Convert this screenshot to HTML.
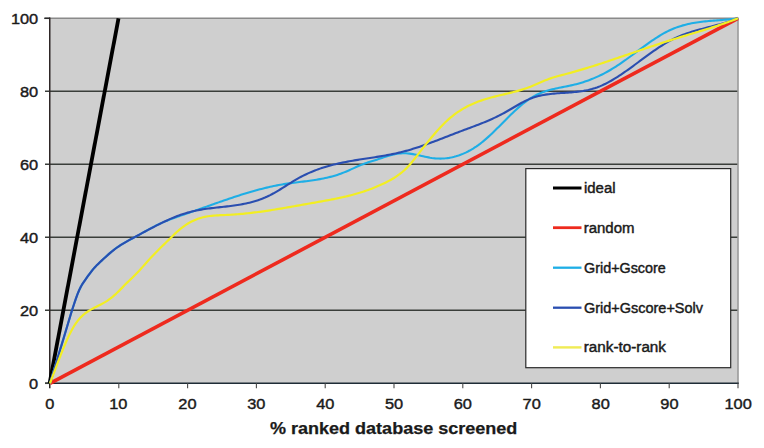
<!DOCTYPE html>
<html><head><meta charset="utf-8"><style>
html,body{margin:0;padding:0;background:#fff;}
svg{display:block;font-family:"Liberation Sans", sans-serif;}
</style></head><body>
<svg width="764" height="448" viewBox="0 0 764 448">
<rect x="50.0" y="18.3" width="688.0" height="365.0" fill="#cfcfcf"/>
<line x1="45.0" y1="310.3" x2="738.0" y2="310.3" stroke="#3a3e3a" stroke-width="1.5"/>
<line x1="45.0" y1="237.3" x2="738.0" y2="237.3" stroke="#3a3e3a" stroke-width="1.5"/>
<line x1="45.0" y1="164.3" x2="738.0" y2="164.3" stroke="#3a3e3a" stroke-width="1.5"/>
<line x1="45.0" y1="91.3" x2="738.0" y2="91.3" stroke="#3a3e3a" stroke-width="1.5"/>
<line x1="45.0" y1="18.3" x2="738.8" y2="18.3" stroke="#8a8a8a" stroke-width="1.6"/>
<line x1="738.0" y1="18.3" x2="738.0" y2="383.3" stroke="#9a9a9a" stroke-width="1.6"/>
<line x1="44.2" y1="18.3" x2="50.0" y2="18.3" stroke="#2a2a2a" stroke-width="1.5"/>
<line x1="49.75" y1="17.5" x2="49.75" y2="388.3" stroke="#2e2626" stroke-width="1.5"/>
<line x1="45.0" y1="383.3" x2="738.8" y2="383.3" stroke="#1e2c36" stroke-width="1.4"/>
<line x1="118.8" y1="383.3" x2="118.8" y2="388.3" stroke="#4a4a4a" stroke-width="1.1"/>
<line x1="187.6" y1="383.3" x2="187.6" y2="388.3" stroke="#4a4a4a" stroke-width="1.1"/>
<line x1="256.4" y1="383.3" x2="256.4" y2="388.3" stroke="#4a4a4a" stroke-width="1.1"/>
<line x1="325.2" y1="383.3" x2="325.2" y2="388.3" stroke="#4a4a4a" stroke-width="1.1"/>
<line x1="394.0" y1="383.3" x2="394.0" y2="388.3" stroke="#4a4a4a" stroke-width="1.1"/>
<line x1="462.8" y1="383.3" x2="462.8" y2="388.3" stroke="#4a4a4a" stroke-width="1.1"/>
<line x1="531.6" y1="383.3" x2="531.6" y2="388.3" stroke="#4a4a4a" stroke-width="1.1"/>
<line x1="600.4" y1="383.3" x2="600.4" y2="388.3" stroke="#4a4a4a" stroke-width="1.1"/>
<line x1="669.2" y1="383.3" x2="669.2" y2="388.3" stroke="#4a4a4a" stroke-width="1.1"/>
<line x1="738.0" y1="383.3" x2="738.0" y2="388.3" stroke="#4a4a4a" stroke-width="1.1"/>
<line x1="45.0" y1="383.3" x2="50.0" y2="383.3" stroke="#3a3e3a" stroke-width="1.5"/>
<line x1="49.6" y1="383.3" x2="118.5" y2="18.30000000000001" stroke="#000" stroke-width="3.8"/>
<line x1="50.0" y1="383.3" x2="738.0" y2="18.30000000000001" stroke="#ee2a1e" stroke-width="3.6"/>
<path d="M50.00 383.30 L51.72 377.63 L53.44 371.91 L55.16 366.17 L56.88 360.43 L58.60 354.71 L60.32 349.03 L62.04 343.37 L63.76 337.70 L65.48 331.99 L67.20 326.23 L68.92 320.49 L70.64 314.82 L72.36 309.30 L74.08 303.98 L75.80 298.92 L77.52 294.21 L79.24 290.03 L80.96 286.53 L82.68 283.61 L84.40 281.03 L86.12 278.59 L87.84 276.16 L89.56 273.79 L91.28 271.52 L93.00 269.40 L94.72 267.44 L96.44 265.63 L98.16 263.92 L99.88 262.27 L101.60 260.67 L103.32 259.06 L105.04 257.47 L106.76 255.90 L108.48 254.36 L110.20 252.85 L111.92 251.40 L113.64 250.01 L115.36 248.69 L117.08 247.44 L118.80 246.26 L120.52 245.15 L122.24 244.08 L123.96 243.06 L125.68 242.08 L127.40 241.13 L129.12 240.19 L130.84 239.27 L132.56 238.36 L134.28 237.44 L136.00 236.50 L137.72 235.56 L139.44 234.61 L141.16 233.65 L142.88 232.69 L144.60 231.74 L146.32 230.78 L148.04 229.83 L149.76 228.90 L151.48 227.97 L153.20 227.06 L154.92 226.17 L156.64 225.30 L158.36 224.46 L160.08 223.64 L161.80 222.86 L163.52 222.10 L165.24 221.37 L166.96 220.66 L168.68 219.97 L170.40 219.31 L172.12 218.66 L173.84 218.03 L175.56 217.41 L177.28 216.80 L179.00 216.20 L180.72 215.61 L182.44 215.02 L184.16 214.43 L185.88 213.85 L187.60 213.26 L189.32 212.67 L191.04 212.07 L192.76 211.47 L194.48 210.87 L196.20 210.27 L197.92 209.66 L199.64 209.06 L201.36 208.45 L203.08 207.84 L204.80 207.23 L206.52 206.62 L208.24 206.01 L209.96 205.40 L211.68 204.79 L213.40 204.19 L215.12 203.58 L216.84 202.98 L218.56 202.37 L220.28 201.77 L222.00 201.18 L223.72 200.58 L225.44 199.99 L227.16 199.40 L228.88 198.82 L230.60 198.24 L232.32 197.67 L234.04 197.10 L235.76 196.53 L237.48 195.97 L239.20 195.42 L240.92 194.87 L242.64 194.33 L244.36 193.80 L246.08 193.27 L247.80 192.75 L249.52 192.24 L251.24 191.74 L252.96 191.24 L254.68 190.76 L256.40 190.28 L258.12 189.81 L259.84 189.35 L261.56 188.91 L263.28 188.47 L265.00 188.04 L266.72 187.63 L268.44 187.22 L270.16 186.83 L271.88 186.45 L273.60 186.08 L275.32 185.72 L277.04 185.38 L278.76 185.05 L280.48 184.73 L282.20 184.43 L283.92 184.14 L285.64 183.87 L287.36 183.61 L289.08 183.36 L290.80 183.12 L292.52 182.89 L294.24 182.67 L295.96 182.45 L297.68 182.23 L299.40 182.02 L301.12 181.81 L302.84 181.60 L304.56 181.38 L306.28 181.17 L308.00 180.94 L309.72 180.71 L311.44 180.48 L313.16 180.23 L314.88 179.97 L316.60 179.70 L318.32 179.41 L320.04 179.11 L321.76 178.79 L323.48 178.45 L325.20 178.09 L326.92 177.71 L328.64 177.31 L330.36 176.88 L332.08 176.43 L333.80 175.94 L335.52 175.43 L337.24 174.89 L338.96 174.31 L340.68 173.70 L342.40 173.05 L344.12 172.37 L345.84 171.66 L347.56 170.92 L349.28 170.17 L351.00 169.40 L352.72 168.62 L354.44 167.85 L356.16 167.08 L357.88 166.32 L359.60 165.58 L361.32 164.86 L363.04 164.18 L364.76 163.53 L366.48 162.92 L368.20 162.36 L369.92 161.82 L371.64 161.30 L373.36 160.78 L375.08 160.23 L376.80 159.66 L378.52 159.09 L380.24 158.50 L381.96 157.92 L383.68 157.35 L385.40 156.78 L387.12 156.24 L388.84 155.72 L390.56 155.24 L392.28 154.79 L394.00 154.39 L395.72 154.03 L397.44 153.74 L399.16 153.51 L400.88 153.34 L402.60 153.25 L404.32 153.24 L406.04 153.31 L407.76 153.43 L409.48 153.62 L411.20 153.85 L412.92 154.13 L414.64 154.44 L416.36 154.78 L418.08 155.15 L419.80 155.52 L421.52 155.91 L423.24 156.29 L424.96 156.67 L426.68 157.03 L428.40 157.37 L430.12 157.68 L431.84 157.95 L433.56 158.18 L435.28 158.36 L437.00 158.48 L438.72 158.56 L440.44 158.58 L442.16 158.54 L443.88 158.46 L445.60 158.32 L447.32 158.12 L449.04 157.87 L450.76 157.57 L452.48 157.21 L454.20 156.79 L455.92 156.32 L457.64 155.80 L459.36 155.22 L461.08 154.58 L462.80 153.89 L464.52 153.14 L466.24 152.33 L467.96 151.47 L469.68 150.54 L471.40 149.56 L473.12 148.53 L474.84 147.43 L476.56 146.28 L478.28 145.07 L480.00 143.80 L481.72 142.47 L483.44 141.08 L485.16 139.63 L486.88 138.14 L488.60 136.60 L490.32 135.01 L492.04 133.39 L493.76 131.74 L495.48 130.06 L497.20 128.37 L498.92 126.65 L500.64 124.92 L502.36 123.19 L504.08 121.46 L505.80 119.73 L507.52 118.01 L509.24 116.30 L510.96 114.61 L512.68 112.94 L514.40 111.30 L516.12 109.70 L517.84 108.14 L519.56 106.61 L521.28 105.14 L523.00 103.72 L524.72 102.36 L526.44 101.06 L528.16 99.83 L529.88 98.67 L531.60 97.60 L533.32 96.59 L535.04 95.66 L536.76 94.79 L538.48 93.99 L540.20 93.25 L541.92 92.56 L543.64 91.92 L545.36 91.33 L547.08 90.78 L548.80 90.28 L550.52 89.80 L552.24 89.36 L553.96 88.94 L555.68 88.55 L557.40 88.18 L559.12 87.82 L560.84 87.47 L562.56 87.13 L564.28 86.79 L566.00 86.45 L567.72 86.11 L569.44 85.75 L571.16 85.39 L572.88 85.00 L574.60 84.60 L576.32 84.17 L578.04 83.71 L579.76 83.23 L581.48 82.72 L583.20 82.18 L584.92 81.62 L586.64 81.03 L588.36 80.41 L590.08 79.76 L591.80 79.09 L593.52 78.38 L595.24 77.65 L596.96 76.89 L598.68 76.10 L600.40 75.28 L602.12 74.44 L603.84 73.56 L605.56 72.65 L607.28 71.72 L609.00 70.75 L610.72 69.75 L612.44 68.72 L614.16 67.66 L615.88 66.57 L617.60 65.45 L619.32 64.31 L621.04 63.14 L622.76 61.94 L624.48 60.73 L626.20 59.50 L627.92 58.26 L629.64 57.00 L631.36 55.74 L633.08 54.47 L634.80 53.19 L636.52 51.91 L638.24 50.64 L639.96 49.36 L641.68 48.09 L643.40 46.83 L645.12 45.58 L646.84 44.34 L648.56 43.12 L650.28 41.91 L652.00 40.73 L653.72 39.57 L655.44 38.43 L657.16 37.32 L658.88 36.24 L660.60 35.20 L662.32 34.18 L664.04 33.21 L665.76 32.28 L667.48 31.38 L669.20 30.54 L670.92 29.74 L672.64 28.99 L674.36 28.28 L676.08 27.62 L677.80 27.00 L679.52 26.42 L681.24 25.88 L682.96 25.37 L684.68 24.90 L686.40 24.47 L688.12 24.06 L689.84 23.69 L691.56 23.34 L693.28 23.03 L695.00 22.73 L696.72 22.46 L698.44 22.21 L700.16 21.98 L701.88 21.76 L703.60 21.57 L705.32 21.38 L707.04 21.21 L708.76 21.05 L710.48 20.90 L712.20 20.76 L713.92 20.62 L715.64 20.49 L717.36 20.36 L719.08 20.23 L720.80 20.09 L722.52 19.96 L724.24 19.82 L725.96 19.67 L727.68 19.51 L729.40 19.35 L731.12 19.17 L732.84 18.98 L734.56 18.77 L736.28 18.54 L738.00 18.30" fill="none" stroke="#1eaee6" stroke-width="2.1" stroke-linejoin="round"/>
<path d="M50.00 383.30 L51.72 377.63 L53.44 371.92 L55.16 366.17 L56.88 360.43 L58.60 354.71 L60.32 349.03 L62.04 343.37 L63.76 337.70 L65.48 331.99 L67.20 326.22 L68.92 320.47 L70.64 314.80 L72.36 309.29 L74.08 304.00 L75.80 298.95 L77.52 294.22 L79.24 290.01 L80.96 286.50 L82.68 283.59 L84.40 281.04 L86.12 278.61 L87.84 276.19 L89.56 273.82 L91.28 271.54 L93.00 269.40 L94.72 267.43 L96.44 265.61 L98.16 263.89 L99.88 262.24 L101.60 260.64 L103.32 259.04 L105.04 257.47 L106.76 255.91 L108.48 254.38 L110.20 252.90 L111.92 251.46 L113.64 250.08 L115.36 248.76 L117.08 247.50 L118.80 246.31 L120.52 245.18 L122.24 244.09 L123.96 243.05 L125.68 242.05 L127.40 241.07 L129.12 240.12 L130.84 239.18 L132.56 238.26 L134.28 237.33 L136.00 236.41 L137.72 235.48 L139.44 234.56 L141.16 233.63 L142.88 232.70 L144.60 231.77 L146.32 230.85 L148.04 229.93 L149.76 229.02 L151.48 228.11 L153.20 227.21 L154.92 226.32 L156.64 225.44 L158.36 224.57 L160.08 223.72 L161.80 222.87 L163.52 222.04 L165.24 221.23 L166.96 220.44 L168.68 219.66 L170.40 218.90 L172.12 218.16 L173.84 217.44 L175.56 216.75 L177.28 216.08 L179.00 215.44 L180.72 214.82 L182.44 214.23 L184.16 213.67 L185.88 213.13 L187.60 212.63 L189.32 212.16 L191.04 211.72 L192.76 211.31 L194.48 210.92 L196.20 210.56 L197.92 210.22 L199.64 209.90 L201.36 209.60 L203.08 209.32 L204.80 209.06 L206.52 208.81 L208.24 208.58 L209.96 208.35 L211.68 208.14 L213.40 207.93 L215.12 207.73 L216.84 207.54 L218.56 207.35 L220.28 207.16 L222.00 206.97 L223.72 206.78 L225.44 206.59 L227.16 206.39 L228.88 206.18 L230.60 205.97 L232.32 205.75 L234.04 205.52 L235.76 205.27 L237.48 205.01 L239.20 204.74 L240.92 204.44 L242.64 204.13 L244.36 203.79 L246.08 203.44 L247.80 203.06 L249.52 202.65 L251.24 202.21 L252.96 201.75 L254.68 201.26 L256.40 200.73 L258.12 200.16 L259.84 199.57 L261.56 198.93 L263.28 198.25 L265.00 197.54 L266.72 196.78 L268.44 195.97 L270.16 195.12 L271.88 194.22 L273.60 193.29 L275.32 192.31 L277.04 191.31 L278.76 190.28 L280.48 189.23 L282.20 188.17 L283.92 187.09 L285.64 186.01 L287.36 184.92 L289.08 183.84 L290.80 182.77 L292.52 181.71 L294.24 180.67 L295.96 179.65 L297.68 178.66 L299.40 177.70 L301.12 176.78 L302.84 175.89 L304.56 175.03 L306.28 174.20 L308.00 173.41 L309.72 172.64 L311.44 171.91 L313.16 171.20 L314.88 170.52 L316.60 169.86 L318.32 169.23 L320.04 168.63 L321.76 168.05 L323.48 167.49 L325.20 166.95 L326.92 166.44 L328.64 165.95 L330.36 165.47 L332.08 165.02 L333.80 164.58 L335.52 164.16 L337.24 163.75 L338.96 163.36 L340.68 162.99 L342.40 162.63 L344.12 162.28 L345.84 161.94 L347.56 161.62 L349.28 161.30 L351.00 160.99 L352.72 160.69 L354.44 160.40 L356.16 160.12 L357.88 159.84 L359.60 159.57 L361.32 159.30 L363.04 159.03 L364.76 158.76 L366.48 158.50 L368.20 158.24 L369.92 157.98 L371.64 157.71 L373.36 157.45 L375.08 157.18 L376.80 156.91 L378.52 156.63 L380.24 156.35 L381.96 156.06 L383.68 155.76 L385.40 155.46 L387.12 155.15 L388.84 154.82 L390.56 154.49 L392.28 154.15 L394.00 153.79 L395.72 153.42 L397.44 153.04 L399.16 152.64 L400.88 152.22 L402.60 151.79 L404.32 151.34 L406.04 150.88 L407.76 150.40 L409.48 149.90 L411.20 149.39 L412.92 148.86 L414.64 148.33 L416.36 147.77 L418.08 147.21 L419.80 146.64 L421.52 146.05 L423.24 145.46 L424.96 144.85 L426.68 144.24 L428.40 143.62 L430.12 142.99 L431.84 142.35 L433.56 141.71 L435.28 141.06 L437.00 140.41 L438.72 139.75 L440.44 139.09 L442.16 138.43 L443.88 137.77 L445.60 137.10 L447.32 136.43 L449.04 135.76 L450.76 135.09 L452.48 134.43 L454.20 133.76 L455.92 133.10 L457.64 132.44 L459.36 131.78 L461.08 131.13 L462.80 130.48 L464.52 129.83 L466.24 129.19 L467.96 128.55 L469.68 127.91 L471.40 127.27 L473.12 126.62 L474.84 125.97 L476.56 125.32 L478.28 124.66 L480.00 123.99 L481.72 123.31 L483.44 122.62 L485.16 121.91 L486.88 121.19 L488.60 120.46 L490.32 119.71 L492.04 118.95 L493.76 118.16 L495.48 117.36 L497.20 116.53 L498.92 115.68 L500.64 114.80 L502.36 113.90 L504.08 112.97 L505.80 112.01 L507.52 111.03 L509.24 110.03 L510.96 109.02 L512.68 108.00 L514.40 106.98 L516.12 105.97 L517.84 104.97 L519.56 103.99 L521.28 103.03 L523.00 102.11 L524.72 101.22 L526.44 100.38 L528.16 99.59 L529.88 98.85 L531.60 98.18 L533.32 97.57 L535.04 97.01 L536.76 96.51 L538.48 96.05 L540.20 95.64 L541.92 95.28 L543.64 94.95 L545.36 94.66 L547.08 94.40 L548.80 94.17 L550.52 93.96 L552.24 93.78 L553.96 93.61 L555.68 93.46 L557.40 93.32 L559.12 93.19 L560.84 93.07 L562.56 92.96 L564.28 92.84 L566.00 92.72 L567.72 92.60 L569.44 92.48 L571.16 92.34 L572.88 92.20 L574.60 92.04 L576.32 91.86 L578.04 91.66 L579.76 91.44 L581.48 91.20 L583.20 90.93 L584.92 90.62 L586.64 90.29 L588.36 89.92 L590.08 89.51 L591.80 89.06 L593.52 88.56 L595.24 88.02 L596.96 87.43 L598.68 86.79 L600.40 86.10 L602.12 85.35 L603.84 84.56 L605.56 83.73 L607.28 82.85 L609.00 81.93 L610.72 80.98 L612.44 79.98 L614.16 78.96 L615.88 77.90 L617.60 76.81 L619.32 75.69 L621.04 74.55 L622.76 73.39 L624.48 72.20 L626.20 71.00 L627.92 69.78 L629.64 68.54 L631.36 67.29 L633.08 66.04 L634.80 64.77 L636.52 63.50 L638.24 62.23 L639.96 60.95 L641.68 59.68 L643.40 58.41 L645.12 57.14 L646.84 55.88 L648.56 54.63 L650.28 53.40 L652.00 52.17 L653.72 50.97 L655.44 49.78 L657.16 48.61 L658.88 47.47 L660.60 46.35 L662.32 45.25 L664.04 44.19 L665.76 43.16 L667.48 42.16 L669.20 41.20 L670.92 40.27 L672.64 39.39 L674.36 38.55 L676.08 37.74 L677.80 36.97 L679.52 36.23 L681.24 35.52 L682.96 34.85 L684.68 34.20 L686.40 33.58 L688.12 32.98 L689.84 32.41 L691.56 31.86 L693.28 31.33 L695.00 30.81 L696.72 30.31 L698.44 29.83 L700.16 29.35 L701.88 28.89 L703.60 28.44 L705.32 27.99 L707.04 27.54 L708.76 27.10 L710.48 26.66 L712.20 26.22 L713.92 25.78 L715.64 25.33 L717.36 24.88 L719.08 24.42 L720.80 23.95 L722.52 23.46 L724.24 22.97 L725.96 22.46 L727.68 21.93 L729.40 21.38 L731.12 20.81 L732.84 20.22 L734.56 19.61 L736.28 18.97 L738.00 18.30" fill="none" stroke="#2a4eb0" stroke-width="2.1" stroke-linejoin="round"/>
<path d="M50.00 383.30 L51.72 378.75 L53.44 374.16 L55.16 369.56 L56.88 364.98 L58.60 360.45 L60.32 355.98 L62.04 351.61 L63.76 347.36 L65.48 343.27 L67.20 339.35 L68.92 335.63 L70.64 332.15 L72.36 328.94 L74.08 326.01 L75.80 323.38 L77.52 321.03 L79.24 318.95 L80.96 317.09 L82.68 315.44 L84.40 313.97 L86.12 312.66 L87.84 311.48 L89.56 310.40 L91.28 309.40 L93.00 308.46 L94.72 307.55 L96.44 306.68 L98.16 305.81 L99.88 304.93 L101.60 304.04 L103.32 303.10 L105.04 302.12 L106.76 301.07 L108.48 299.93 L110.20 298.70 L111.92 297.38 L113.64 295.95 L115.36 294.44 L117.08 292.82 L118.80 291.13 L120.52 289.38 L122.24 287.61 L123.96 285.84 L125.68 284.10 L127.40 282.40 L129.12 280.74 L130.84 279.09 L132.56 277.43 L134.28 275.76 L136.00 274.05 L137.72 272.28 L139.44 270.45 L141.16 268.56 L142.88 266.62 L144.60 264.67 L146.32 262.71 L148.04 260.78 L149.76 258.87 L151.48 257.02 L153.20 255.20 L154.92 253.42 L156.64 251.68 L158.36 249.95 L160.08 248.25 L161.80 246.56 L163.52 244.88 L165.24 243.21 L166.96 241.54 L168.68 239.86 L170.40 238.17 L172.12 236.48 L173.84 234.79 L175.56 233.14 L177.28 231.56 L179.00 230.07 L180.72 228.65 L182.44 227.32 L184.16 226.07 L185.88 224.90 L187.60 223.80 L189.32 222.78 L191.04 221.84 L192.76 220.97 L194.48 220.18 L196.20 219.46 L197.92 218.80 L199.64 218.22 L201.36 217.71 L203.08 217.26 L204.80 216.87 L206.52 216.54 L208.24 216.25 L209.96 216.01 L211.68 215.81 L213.40 215.64 L215.12 215.50 L216.84 215.38 L218.56 215.29 L220.28 215.21 L222.00 215.13 L223.72 215.06 L225.44 214.99 L227.16 214.92 L228.88 214.83 L230.60 214.73 L232.32 214.63 L234.04 214.51 L235.76 214.39 L237.48 214.25 L239.20 214.11 L240.92 213.96 L242.64 213.80 L244.36 213.63 L246.08 213.45 L247.80 213.27 L249.52 213.08 L251.24 212.88 L252.96 212.68 L254.68 212.46 L256.40 212.24 L258.12 212.02 L259.84 211.79 L261.56 211.55 L263.28 211.31 L265.00 211.06 L266.72 210.81 L268.44 210.55 L270.16 210.29 L271.88 210.02 L273.60 209.75 L275.32 209.47 L277.04 209.19 L278.76 208.91 L280.48 208.62 L282.20 208.33 L283.92 208.04 L285.64 207.74 L287.36 207.45 L289.08 207.15 L290.80 206.85 L292.52 206.54 L294.24 206.24 L295.96 205.93 L297.68 205.62 L299.40 205.32 L301.12 205.01 L302.84 204.70 L304.56 204.39 L306.28 204.08 L308.00 203.77 L309.72 203.46 L311.44 203.16 L313.16 202.85 L314.88 202.55 L316.60 202.24 L318.32 201.94 L320.04 201.63 L321.76 201.32 L323.48 201.01 L325.20 200.70 L326.92 200.38 L328.64 200.06 L330.36 199.74 L332.08 199.41 L333.80 199.07 L335.52 198.72 L337.24 198.37 L338.96 198.01 L340.68 197.64 L342.40 197.26 L344.12 196.87 L345.84 196.47 L347.56 196.06 L349.28 195.63 L351.00 195.20 L352.72 194.74 L354.44 194.28 L356.16 193.80 L357.88 193.30 L359.60 192.79 L361.32 192.26 L363.04 191.71 L364.76 191.14 L366.48 190.55 L368.20 189.95 L369.92 189.32 L371.64 188.68 L373.36 188.01 L375.08 187.31 L376.80 186.60 L378.52 185.86 L380.24 185.10 L381.96 184.31 L383.68 183.50 L385.40 182.66 L387.12 181.79 L388.84 180.89 L390.56 179.96 L392.28 178.98 L394.00 177.95 L395.72 176.86 L397.44 175.70 L399.16 174.47 L400.88 173.15 L402.60 171.74 L404.32 170.23 L406.04 168.61 L407.76 166.87 L409.48 165.01 L411.20 163.02 L412.92 160.92 L414.64 158.74 L416.36 156.53 L418.08 154.31 L419.80 152.09 L421.52 149.88 L423.24 147.69 L424.96 145.50 L426.68 143.34 L428.40 141.21 L430.12 139.10 L431.84 137.02 L433.56 134.98 L435.28 132.98 L437.00 131.03 L438.72 129.12 L440.44 127.26 L442.16 125.47 L443.88 123.73 L445.60 122.05 L447.32 120.44 L449.04 118.91 L450.76 117.44 L452.48 116.04 L454.20 114.71 L455.92 113.43 L457.64 112.22 L459.36 111.06 L461.08 109.96 L462.80 108.92 L464.52 107.92 L466.24 106.98 L467.96 106.08 L469.68 105.23 L471.40 104.42 L473.12 103.65 L474.84 102.92 L476.56 102.23 L478.28 101.57 L480.00 100.94 L481.72 100.34 L483.44 99.77 L485.16 99.23 L486.88 98.71 L488.60 98.21 L490.32 97.73 L492.04 97.27 L493.76 96.82 L495.48 96.38 L497.20 95.96 L498.92 95.54 L500.64 95.13 L502.36 94.72 L504.08 94.31 L505.80 93.91 L507.52 93.50 L509.24 93.08 L510.96 92.66 L512.68 92.23 L514.40 91.79 L516.12 91.33 L517.84 90.86 L519.56 90.37 L521.28 89.86 L523.00 89.32 L524.72 88.76 L526.44 88.18 L528.16 87.57 L529.88 86.92 L531.60 86.24 L533.32 85.54 L535.04 84.81 L536.76 84.07 L538.48 83.32 L540.20 82.57 L541.92 81.82 L543.64 81.08 L545.36 80.36 L547.08 79.66 L548.80 78.99 L550.52 78.35 L552.24 77.76 L553.96 77.21 L555.68 76.70 L557.40 76.23 L559.12 75.77 L560.84 75.33 L562.56 74.89 L564.28 74.45 L566.00 74.00 L567.72 73.54 L569.44 73.08 L571.16 72.61 L572.88 72.13 L574.60 71.65 L576.32 71.16 L578.04 70.66 L579.76 70.16 L581.48 69.65 L583.20 69.14 L584.92 68.62 L586.64 68.09 L588.36 67.56 L590.08 67.03 L591.80 66.49 L593.52 65.95 L595.24 65.40 L596.96 64.85 L598.68 64.30 L600.40 63.74 L602.12 63.17 L603.84 62.61 L605.56 62.04 L607.28 61.47 L609.00 60.90 L610.72 60.32 L612.44 59.74 L614.16 59.16 L615.88 58.58 L617.60 57.99 L619.32 57.41 L621.04 56.82 L622.76 56.23 L624.48 55.64 L626.20 55.05 L627.92 54.46 L629.64 53.87 L631.36 53.28 L633.08 52.69 L634.80 52.10 L636.52 51.51 L638.24 50.92 L639.96 50.33 L641.68 49.74 L643.40 49.15 L645.12 48.57 L646.84 47.98 L648.56 47.40 L650.28 46.82 L652.00 46.24 L653.72 45.67 L655.44 45.09 L657.16 44.52 L658.88 43.96 L660.60 43.39 L662.32 42.83 L664.04 42.27 L665.76 41.72 L667.48 41.17 L669.20 40.62 L670.92 40.08 L672.64 39.54 L674.36 39.01 L676.08 38.47 L677.80 37.95 L679.52 37.42 L681.24 36.90 L682.96 36.38 L684.68 35.85 L686.40 35.34 L688.12 34.82 L689.84 34.30 L691.56 33.78 L693.28 33.26 L695.00 32.74 L696.72 32.22 L698.44 31.70 L700.16 31.17 L701.88 30.64 L703.60 30.11 L705.32 29.58 L707.04 29.04 L708.76 28.50 L710.48 27.95 L712.20 27.40 L713.92 26.85 L715.64 26.28 L717.36 25.72 L719.08 25.14 L720.80 24.56 L722.52 23.97 L724.24 23.38 L725.96 22.78 L727.68 22.16 L729.40 21.54 L731.12 20.92 L732.84 20.28 L734.56 19.63 L736.28 18.97 L738.00 18.30" fill="none" stroke="#f2ee22" stroke-width="2.2" stroke-linejoin="round"/>
<text x="29.13" y="388.55" font-size="15.3" textLength="9.10" lengthAdjust="spacingAndGlyphs" fill="#1a1a1a" stroke="#1a1a1a" stroke-width="0.42">0</text>
<text x="20.03" y="315.55" font-size="15.3" textLength="18.21" lengthAdjust="spacingAndGlyphs" fill="#1a1a1a" stroke="#1a1a1a" stroke-width="0.42">20</text>
<text x="20.03" y="242.55" font-size="15.3" textLength="18.21" lengthAdjust="spacingAndGlyphs" fill="#1a1a1a" stroke="#1a1a1a" stroke-width="0.42">40</text>
<text x="20.03" y="169.55" font-size="15.3" textLength="18.21" lengthAdjust="spacingAndGlyphs" fill="#1a1a1a" stroke="#1a1a1a" stroke-width="0.42">60</text>
<text x="20.03" y="96.55" font-size="15.3" textLength="18.21" lengthAdjust="spacingAndGlyphs" fill="#1a1a1a" stroke="#1a1a1a" stroke-width="0.42">80</text>
<text x="10.93" y="23.55" font-size="15.3" textLength="27.31" lengthAdjust="spacingAndGlyphs" fill="#1a1a1a" stroke="#1a1a1a" stroke-width="0.42">100</text>
<text x="45.25" y="409.4" font-size="15.3" textLength="9.10" lengthAdjust="spacingAndGlyphs" fill="#1a1a1a" stroke="#1a1a1a" stroke-width="0.42">0</text>
<text x="109.25" y="409.4" font-size="15.3" textLength="18.21" lengthAdjust="spacingAndGlyphs" fill="#1a1a1a" stroke="#1a1a1a" stroke-width="0.42">10</text>
<text x="178.32" y="409.4" font-size="15.3" textLength="18.21" lengthAdjust="spacingAndGlyphs" fill="#1a1a1a" stroke="#1a1a1a" stroke-width="0.42">20</text>
<text x="247.28" y="409.4" font-size="15.3" textLength="18.21" lengthAdjust="spacingAndGlyphs" fill="#1a1a1a" stroke="#1a1a1a" stroke-width="0.42">30</text>
<text x="316.27" y="409.4" font-size="15.3" textLength="18.21" lengthAdjust="spacingAndGlyphs" fill="#1a1a1a" stroke="#1a1a1a" stroke-width="0.42">40</text>
<text x="384.99" y="409.4" font-size="15.3" textLength="18.21" lengthAdjust="spacingAndGlyphs" fill="#1a1a1a" stroke="#1a1a1a" stroke-width="0.42">50</text>
<text x="453.76" y="409.4" font-size="15.3" textLength="18.21" lengthAdjust="spacingAndGlyphs" fill="#1a1a1a" stroke="#1a1a1a" stroke-width="0.42">60</text>
<text x="522.62" y="409.4" font-size="15.3" textLength="18.21" lengthAdjust="spacingAndGlyphs" fill="#1a1a1a" stroke="#1a1a1a" stroke-width="0.42">70</text>
<text x="591.54" y="409.4" font-size="15.3" textLength="18.21" lengthAdjust="spacingAndGlyphs" fill="#1a1a1a" stroke="#1a1a1a" stroke-width="0.42">80</text>
<text x="660.37" y="409.4" font-size="15.3" textLength="18.21" lengthAdjust="spacingAndGlyphs" fill="#1a1a1a" stroke="#1a1a1a" stroke-width="0.42">90</text>
<text x="724.44" y="409.4" font-size="15.3" textLength="27.31" lengthAdjust="spacingAndGlyphs" fill="#1a1a1a" stroke="#1a1a1a" stroke-width="0.42">100</text>
<text x="269.95" y="434.4" font-size="16" font-weight="bold" textLength="247.44" lengthAdjust="spacingAndGlyphs" fill="#1a1a1a" stroke="#1a1a1a" stroke-width="0.25">% ranked database screened</text>
<rect x="525.8" y="168.6" width="204.9" height="199.1" fill="#fff" stroke="#2a2a2a" stroke-width="1.2"/>
<line x1="553" y1="188" x2="581.5" y2="188" stroke="#000" stroke-width="3.0"/>
<text x="584.00" y="192.95" font-size="13.8" textLength="31.49" lengthAdjust="spacingAndGlyphs" fill="#1a1a1a" stroke="#1a1a1a" stroke-width="0.42">ideal</text>
<line x1="553" y1="227.7" x2="581.5" y2="227.7" stroke="#ee2a1e" stroke-width="2.8"/>
<text x="583.71" y="232.65" font-size="13.8" textLength="50.78" lengthAdjust="spacingAndGlyphs" fill="#1a1a1a" stroke="#1a1a1a" stroke-width="0.42">random</text>
<line x1="553" y1="267.7" x2="581.5" y2="267.7" stroke="#1eaee6" stroke-width="2.3"/>
<text x="584.08" y="272.65" font-size="13.8" textLength="81.66" lengthAdjust="spacingAndGlyphs" fill="#1a1a1a" stroke="#1a1a1a" stroke-width="0.42">Grid+Gscore</text>
<line x1="553" y1="307.7" x2="581.5" y2="307.7" stroke="#2a4eb0" stroke-width="2.3"/>
<text x="584.07" y="312.65" font-size="13.8" textLength="118.88" lengthAdjust="spacingAndGlyphs" fill="#1a1a1a" stroke="#1a1a1a" stroke-width="0.42">Grid+Gscore+Solv</text>
<line x1="553" y1="347.4" x2="581.5" y2="347.4" stroke="#f0ec55" stroke-width="2.4"/>
<text x="583.79" y="352.35" font-size="13.8" textLength="82.19" lengthAdjust="spacingAndGlyphs" fill="#1a1a1a" stroke="#1a1a1a" stroke-width="0.42">rank-to-rank</text>
</svg>
</body></html>
